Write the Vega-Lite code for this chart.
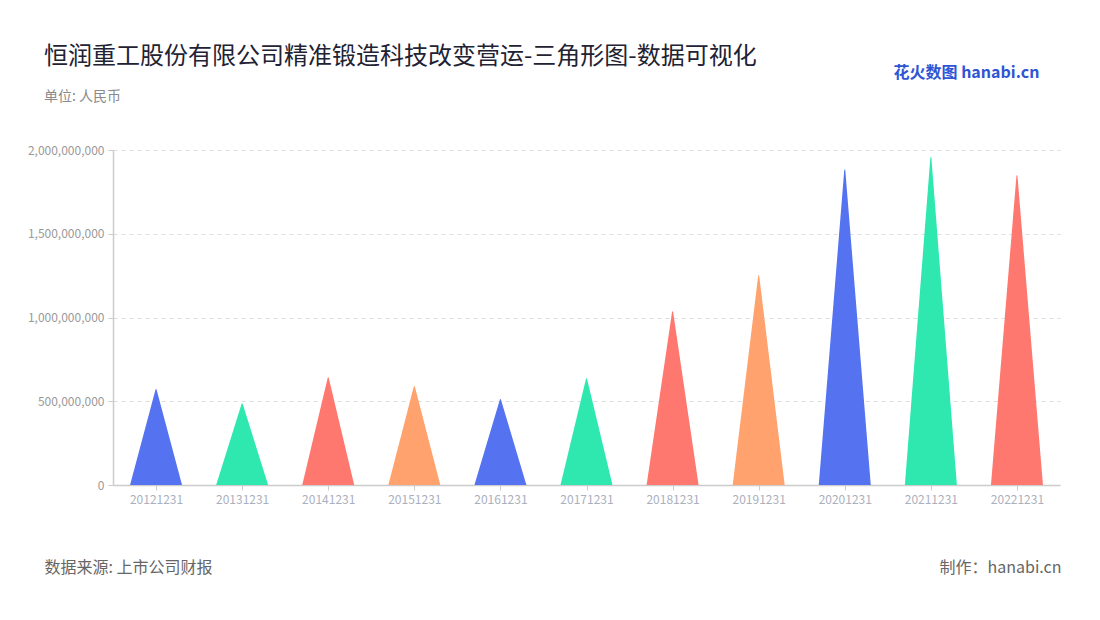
{
  "$schema": "https://vega.github.io/schema/vega-lite/v6.json",
  "width": 947,
  "height": 335,
  "autosize": "none",
  "padding": {"left": 113, "top": 150, "right": 40, "bottom": 135},
  "background": "white",
  "config": {
    "font": "Noto Sans CJK SC",
    "view": {"stroke": null}
  },
  "title": {
    "text": "恒润重工股份有限公司精准锻造科技改变营运-三角形图-数据可视化",
    "subtitle": "单位: 人民币",
    "anchor": "start",
    "frame": "group",
    "dx": -69,
    "offset": -40,
    "fontSize": 24,
    "fontWeight": "normal",
    "color": "#222233",
    "subtitleFontSize": 14,
    "subtitleColor": "#8a8a8a",
    "subtitlePadding": 21
  },
  "datasets": {
    "rows": [
      {"date": "20121231", "value": 570000000},
      {"date": "20131231", "value": 485000000},
      {"date": "20141231", "value": 640000000},
      {"date": "20151231", "value": 588000000},
      {"date": "20161231", "value": 510000000},
      {"date": "20171231", "value": 634000000},
      {"date": "20181231", "value": 1035000000},
      {"date": "20191231", "value": 1250000000},
      {"date": "20201231", "value": 1880000000},
      {"date": "20211231", "value": 1955000000},
      {"date": "20221231", "value": 1846000000}
    ]
  },
  "layer": [
    {
      "data": {"name": "rows"},
      "transform": [
        {"calculate": "0", "as": "base"},
        {"fold": ["base", "value"], "as": ["part", "v"]}
      ],
      "mark": {"type": "trail", "clip": true},
      "encoding": {
        "x": {
          "field": "date",
          "type": "nominal",
          "scale": {"type": "point", "padding": 0.5},
          "axis": {
            "title": "数据来源: 上市公司财报",
            "titleX": -69,
            "titleY": 82,
            "titleAlign": "left",
            "titleAnchor": "start",
            "titleBaseline": "middle",
            "titleFontSize": 16,
            "titleFontWeight": "normal",
            "titleColor": "#666666",
            "labelAngle": 0,
            "labelFontSize": 12,
            "labelColor": "#aab0bd",
            "labelPadding": 4,
            "domainColor": "#cccccc",
            "domainWidth": 1.5,
            "tickColor": "#cccccc",
            "tickSize": 5
          }
        },
        "y": {
          "field": "v",
          "type": "quantitative",
          "stack": null,
          "scale": {"domain": [0, 2000000000]},
          "axis": {
            "title": null,
            "values": [0, 500000000, 1000000000, 1500000000, 2000000000],
            "format": ",d",
            "labelFontSize": 12,
            "labelColor": "#999999",
            "labelPadding": 4,
            "domainColor": "#cccccc",
            "domainWidth": 1.5,
            "tickColor": "#cccccc",
            "tickSize": 5,
            "grid": true,
            "gridColor": "#dddddd",
            "gridDash": [4, 4]
          }
        },
        "size": {
          "field": "part",
          "type": "ordinal",
          "legend": null,
          "scale": {"type": "ordinal", "domain": ["base", "value"], "range": [52, 0]}
        },
        "detail": {"field": "date", "type": "nominal"},
        "order": {"field": "part", "sort": "ascending"},
        "color": {
          "field": "date",
          "type": "nominal",
          "legend": null,
          "scale": {
            "domain": ["20121231", "20131231", "20141231", "20151231", "20161231", "20171231", "20181231", "20191231", "20201231", "20211231", "20221231"],
            "range": ["#5572F0", "#2EE8B0", "#FF7870", "#FFA26E", "#5572F0", "#2EE8B0", "#FF7870", "#FFA26E", "#5572F0", "#2EE8B0", "#FF7870"]
          }
        }
      }
    },
    {
      "data": {"values": [{"k": 0}]},
      "mark": {"type": "point", "opacity": 0},
      "encoding": {
        "x": {
          "field": "k",
          "type": "quantitative",
          "axis": {
            "orient": "top",
            "labels": false,
            "ticks": false,
            "domain": false,
            "grid": false,
            "title": "花火数图 hanabi.cn",
            "titleX": 780,
            "titleY": -78,
            "titleAlign": "left",
            "titleAnchor": "start",
            "titleBaseline": "middle",
            "titleFontSize": 16,
            "titleFontWeight": "bold",
            "titleColor": "#2f55d4"
          }
        },
        "y": {
          "field": "k",
          "type": "quantitative",
          "axis": {
            "orient": "right",
            "labels": false,
            "ticks": false,
            "domain": false,
            "grid": false,
            "title": "制作：hanabi.cn",
            "titleAngle": 0,
            "titleX": 1,
            "titleY": 417,
            "titleAlign": "right",
            "titleAnchor": "start",
            "titleBaseline": "middle",
            "titleFontSize": 16,
            "titleFontWeight": "normal",
            "titleColor": "#666666"
          }
        }
      }
    }
  ],
  "resolve": {"scale": {"x": "independent", "y": "independent"}, "axis": {"x": "independent", "y": "independent"}}
}
